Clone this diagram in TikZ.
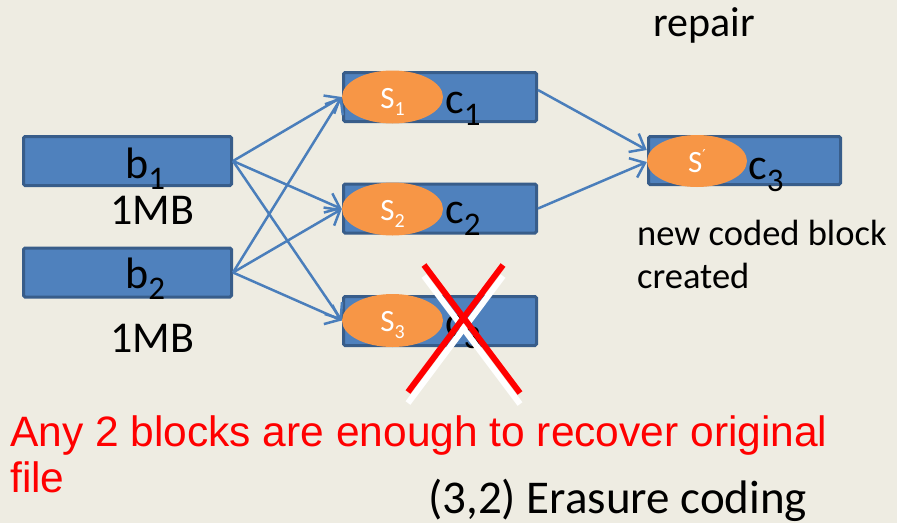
\documentclass[tikz,border=0pt]{standalone}
\usepackage{fontspec}
\setmainfont{Carlito}
\newfontfamily\arialfont{Liberation Sans}
\newfontfamily\symfont{DejaVu Sans}
\usetikzlibrary{shapes.geometric,arrows.meta,calc}

\definecolor{bgcol}{RGB}{238,236,226}
\definecolor{blockfill}{RGB}{79,129,189}
\definecolor{blockedge}{RGB}{56,93,138}
\definecolor{seedfill}{RGB}{247,150,70}
\definecolor{linkcol}{RGB}{74,126,187}
\definecolor{alertred}{RGB}{255,0,0}

% text with a lowered subscript: #1 main size, #2 subscript size, #3 drop, #4 base, #5 index
\newcommand\lowidx[5]{{\fontsize{#1}{#1}\selectfont #4}\raisebox{-#3pt}{\fontsize{#2}{#2}\selectfont #5}}

\tikzset{
  block/.style={draw=blockedge, fill=blockfill, line width=3pt, rounded corners=1.5pt,
    minimum width=193pt, minimum height=49pt, inner sep=0pt},
  wideblock/.style={block, minimum width=208pt},
  seed/.style={ellipse, fill=seedfill, draw=none, minimum width=101pt, minimum height=53pt, inner sep=0pt},
  seedtxt/.style={anchor=base, text=white, inner sep=0pt},
  bigtxt/.style={anchor=base west, inner sep=0pt, text=black},
  link/.style={draw=linkcol, line width=2.5pt, -{Straight Barb[length=13pt,width=21pt,line width=2.5pt]}},
  strike/.style={draw=alertred, line width=6pt},
  strikeshade/.style={draw=white, line width=6pt}
}

\begin{document}
\begin{tikzpicture}[x=1pt,y=-1pt]
  % canvas
  \fill[bgcol] (0,0) rectangle (897,523);
  \useasboundingbox (0,0) rectangle (897,523);

  % original data blocks
  \node[wideblock] (b1) at (127.5,161) {};
  \node[wideblock] (b2) at (127.5,272.5) {};
  \node[bigtxt] (b1l) at (125,178) {\lowidx{44}{33}{11}{b}{1}};
  \node[bigtxt] (b2l) at (125,288) {\lowidx{44}{33}{11}{b}{2}};
  \node[bigtxt] (m1) at (110,224) {\fontsize{44}{44}\selectfont 1MB};
  \node[bigtxt] (m2) at (110,352) {\fontsize{44}{44}\selectfont 1MB};

  % coded blocks
  \node[block] (c1) at (440,97) {};
  \node[block] (c2) at (440,208.5) {};
  \node[block] (c3) at (440,321) {};
  \node[block, minimum width=192pt, minimum height=48pt] (cn) at (744.5,160.5) {};

  \node[seed] (s1) at (392.5,97) {};
  \node[seed] (s2) at (392.5,209) {};
  \node[seed] (s3) at (392.5,320.5) {};
  \node[seed, minimum width=100pt, minimum height=52pt] (sn) at (697,161) {};

  \node[seedtxt] (s1l) at ($(s1.center)+(0,11)$) {\lowidx{31}{20}{7}{S}{1}};
  \node[seedtxt] (s2l) at ($(s2.center)+(0,11)$) {\lowidx{31}{20}{7}{S}{2}};
  \node[seedtxt] (s3l) at ($(s3.center)+(0,11)$) {\lowidx{31}{20}{7}{S}{3}};
  \node[seedtxt] (snl) at ($(sn.center)+(0,11)$) {{\fontsize{31}{31}\selectfont S}\raisebox{12pt}{\fontsize{15}{15}\symfont ′}};

  \node[bigtxt] (c1l) at (445,113) {\lowidx{44}{33}{12}{c}{1}};
  \node[bigtxt] (c2l) at (445,223) {\lowidx{44}{33}{12}{c}{2}};
  \node[bigtxt] (c3l) at (445,336) {\lowidx{44}{33}{12}{c}{3}};
  \node[bigtxt] (cnl) at (748,179) {\lowidx{44}{33}{12}{c}{3}};

  % encoding links
  \foreach \src in {b1,b2}
    \foreach \dst in {s1,s2,s3}
      \draw[link] (\src.east) -- (\dst.west);

  % repair links
  \draw[link] ([yshift=7pt]c1.east) -- ([yshift=11pt]sn.west);
  \draw[link] (c2.east) -- ([yshift=-1pt]sn.west);

  % lost block
  \coordinate (xa1) at (408,392);
  \coordinate (xa2) at (503,265);
  \coordinate (xb1) at (424,265);
  \coordinate (xb2) at (520,393);
  \draw[strikeshade] ($(xa1)+(0,11)$) -- ($(xa2)+(0,11)$);
  \draw[strikeshade] ($(xb1)+(0,11)$) -- ($(xb2)+(0,11)$);
  \draw[strike] (xa1) -- (xa2);
  \draw[strike] (xb1) -- (xb2);

  % captions
  \node[bigtxt] (rep) at (653,36) {\fontsize{42}{42}\selectfont repair};
  \node[bigtxt] (new1) at (637,245) {\fontsize{36.5}{37}\selectfont new coded block};
  \node[bigtxt] (new2) at (637,288) {\fontsize{36.5}{37}\selectfont created};
  \node[bigtxt, text=alertred] (any1) at (10,446) {\arialfont\fontsize{42.5}{43}\selectfont Any 2 blocks are enough to recover original};
  \node[bigtxt, text=alertred] (any2) at (10,492) {\arialfont\fontsize{42.5}{43}\selectfont file};
  \node[bigtxt] (ec) at (428,513) {\fontsize{47}{47}\selectfont (3,2) Erasure coding};
\end{tikzpicture}
\end{document}
